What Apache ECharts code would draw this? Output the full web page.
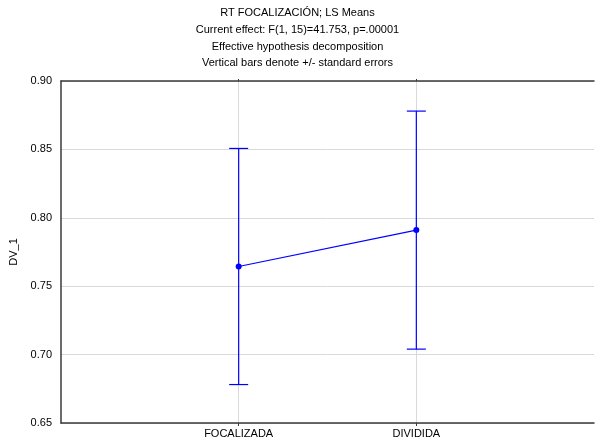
<!DOCTYPE html>
<html>
<head>
<meta charset="utf-8">
<script src="https://cdn.jsdelivr.net/npm/echarts@6/dist/echarts.min.js"></script>
<style>
  html, body { margin: 0; padding: 0; background: #fff; }
  #chart { width: 595px; height: 444px; }
</style>
</head>
<body>
<div id="chart"></div>
<script>
// Axis slots: one empty slot on each side of the two conditions
const categories = ['', 'FOCALIZADA', 'DIVIDIDA', ''];
// LS means of DV_1 per condition (aligned with categories; null = empty slot)
const means = [null, 0.7644, 0.791, null];
// Standard errors of the means
const stdErrors = [null, 0.0863, 0.087, null];
// Y tick values
const yTicks = [0.65, 0.70, 0.75, 0.80, 0.85, 0.90];

const titleLines = [
  'RT FOCALIZACIÓN; LS Means',
  'Current effect: F(1, 15)=41.753, p=.00001',
  'Effective hypothesis decomposition',
  'Vertical bars denote +/- standard errors'
];

const errorData = [];
means.forEach((m, i) => {
  if (m !== null) errorData.push([i, m - stdErrors[i], m + stdErrors[i]]);
});

const blue = '#0000ff';
const axisColor = '#3a3a3a';
const gridColor = '#d9d9d9';
const font = 'Arial, "Liberation Sans", sans-serif';
const showIdx = (idx) => idx === 1 || idx === 2;

const chart = echarts.init(document.getElementById('chart'), null, { renderer: 'canvas' });
chart.setOption({
  animation: false,
  backgroundColor: '#fff',
  title: {
    text: titleLines.join('\n'),
    left: 'center',
    top: 0,
    textStyle: { fontFamily: font, fontSize: 11, fontWeight: 'normal', color: '#000', lineHeight: 16.6 }
  },
  grid: { left: 61, right: 1, top: 81, bottom: 21 },
  xAxis: [{
    type: 'category',
    data: categories,
    boundaryGap: false,
    axisLine: { lineStyle: { color: axisColor, width: 1.5 } },
    axisTick: { show: true, interval: showIdx, length: 3, lineStyle: { color: axisColor } },
    axisLabel: { interval: showIdx, color: '#000', fontFamily: font, fontSize: 11, margin: 5 },
    splitLine: { show: true, interval: showIdx, lineStyle: { color: gridColor, width: 1 } }
  }, {
    type: 'category',
    data: categories,
    position: 'top',
    boundaryGap: false,
    axisLine: { show: true, lineStyle: { color: axisColor, width: 1.5 } },
    axisTick: { show: true, interval: showIdx, length: 2, lineStyle: { color: axisColor } },
    axisLabel: { show: false },
    splitLine: { show: false }
  }],
  yAxis: {
    type: 'value',
    min: yTicks[0],
    max: yTicks[yTicks.length - 1],
    interval: 0.05,
    name: 'DV_1',
    nameLocation: 'middle',
    nameGap: 40,
    nameTextStyle: { fontFamily: font, fontSize: 11, color: '#000' },
    axisLine: { show: true, lineStyle: { color: axisColor, width: 1.5 } },
    axisTick: { show: false },
    axisLabel: {
      color: '#000', fontFamily: font, fontSize: 11, margin: 9,
      formatter: (v) => v.toFixed(2)
    },
    splitLine: { show: true, lineStyle: { color: gridColor, width: 1 } }
  },
  series: [{
    type: 'custom',
    name: 'SE',
    xAxisIndex: 0,
    data: errorData,
    z: 3,
    renderItem: function (params, api) {
      const x = api.value(0);
      const lo = api.coord([x, api.value(1)]);
      const hi = api.coord([x, api.value(2)]);
      const half = 9.5;
      const style = { stroke: blue, lineWidth: 1.2 };
      return {
        type: 'group',
        children: [
          { type: 'line', shape: { x1: hi[0], y1: hi[1], x2: lo[0], y2: lo[1] }, style },
          { type: 'line', shape: { x1: hi[0] - half, y1: hi[1], x2: hi[0] + half, y2: hi[1] }, style },
          { type: 'line', shape: { x1: lo[0] - half, y1: lo[1], x2: lo[0] + half, y2: lo[1] }, style }
        ]
      };
    }
  }, {
    type: 'line',
    name: 'DV_1',
    xAxisIndex: 0,
    data: means,
    connectNulls: false,
    symbol: 'circle',
    symbolSize: 6,
    z: 4,
    lineStyle: { color: blue, width: 1.2 },
    itemStyle: { color: blue }
  }]
});
</script>
</body>
</html>
